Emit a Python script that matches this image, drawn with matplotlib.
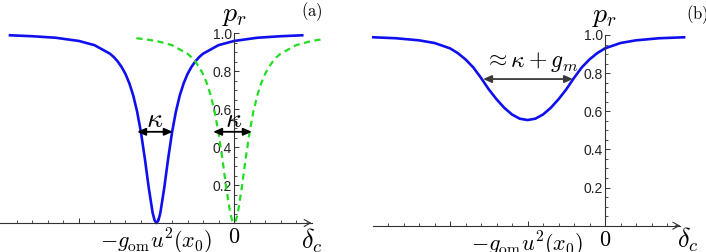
import numpy as np
import matplotlib.pyplot as plt
from matplotlib.ticker import FixedLocator

plt.rcParams['mathtext.fontset'] = 'cm'
plt.rcParams['font.family'] = ['Liberation Sans', 'DejaVu Sans']

# panel (a): shifted cavity dip (blue) and bare cavity dip (green)
a_blue_x = [-2.89, -2.6, -2.3, -2.0, -1.8, -1.6, -1.55, -1.5, -1.45, -1.4, -1.35, -1.3, -1.25,
            -1.2, -1.15, -1.1, -1.05, -1.025, -1.0, -0.975, -0.95, -0.9, -0.85, -0.8,
            -0.75, -0.7, -0.65, -0.6, -0.55, -0.5, -0.45, -0.4, -0.2, 0.0, 0.3, 0.6, 0.88]
a_blue_y = [0.988, 0.983, 0.975, 0.958, 0.936, 0.891, 0.873, 0.850, 0.821, 0.784, 0.735, 0.671, 0.586,
            0.476, 0.338, 0.185, 0.054, 0.014, 0.0, 0.014, 0.054, 0.185, 0.338, 0.476,
            0.586, 0.671, 0.735, 0.784, 0.821, 0.850, 0.873, 0.891, 0.936, 0.958, 0.975, 0.983, 0.988]

a_green_x = [-1.26, -1.0, -0.8, -0.6, -0.55, -0.5, -0.45, -0.4, -0.35, -0.3, -0.25, -0.2, -0.15,
             -0.1, -0.05, -0.025, 0.0, 0.025, 0.05, 0.1, 0.15, 0.2, 0.25, 0.3, 0.35,
             0.4, 0.45, 0.5, 0.55, 0.6, 0.8, 1.0, 1.17]
a_green_y = [0.973, 0.958, 0.936, 0.891, 0.873, 0.850, 0.821, 0.784, 0.735, 0.671, 0.586, 0.476, 0.338,
             0.185, 0.054, 0.014, 0.0, 0.014, 0.054, 0.185, 0.338, 0.476, 0.586, 0.671, 0.735,
             0.784, 0.821, 0.850, 0.873, 0.891, 0.936, 0.958, 0.969]

# panel (b): broadened dip
b_blue_x = [-2.99, -2.7, -2.4, -2.2, -2.0, -1.9, -1.8, -1.7, -1.6, -1.5, -1.4, -1.3, -1.2, -1.1,
            -1.0, -0.9, -0.8, -0.7, -0.6, -0.5, -0.4, -0.3, -0.2, -0.1, 0.0, 0.2, 0.4, 0.7, 1.02]
b_blue_y = [0.988, 0.983, 0.972, 0.958, 0.930, 0.905, 0.872, 0.830, 0.775, 0.715, 0.663, 0.618,
            0.583, 0.561, 0.554, 0.561, 0.583, 0.618, 0.663, 0.715, 0.775, 0.830, 0.872, 0.905,
            0.930, 0.958, 0.972, 0.983, 0.988]

y_ticks = [0.2, 0.4, 0.6, 0.8, 1.0]
y_labels = ['0.2', '0.4', '0.6', '0.8', '1.0']
x_ticks = [-2, -1, 0]
x_labels = ['', r'$-g_{\rm om}u^2(x_0)$', r'$0$']

axis_col = '#333333'
blue = '#1010ee'
green = '#22dd22'

fig = plt.figure(figsize=(7.06, 2.52), dpi=100)
ax_a = fig.add_axes([0, 0, 0.5, 1])
ax_b = fig.add_axes([0.5, 0, 0.5, 1])


def style_axes(ax, xlim, ylim, xstart, xend):
    ax.set_xlim(*xlim)
    ax.set_ylim(*ylim)
    ax.patch.set_visible(False)
    for s in ['top', 'right']:
        ax.spines[s].set_visible(False)
    ax.spines['left'].set_position(('data', 0))
    ax.spines['bottom'].set_position(('data', 0))
    ax.spines['left'].set_bounds(0, 1.0)
    ax.spines['bottom'].set_bounds(xstart, xend)
    for s in ['left', 'bottom']:
        ax.spines[s].set_color(axis_col)
        ax.spines[s].set_linewidth(0.8)
    ax.set_yticks(y_ticks, y_labels)
    ax.yaxis.set_minor_locator(FixedLocator([v for v in np.arange(0.05, 1.0, 0.05)
                                             if abs(v * 5 - round(v * 5)) > 1e-6]))
    ax.set_xticks(x_ticks, x_labels)
    ax.xaxis.set_minor_locator(FixedLocator([v for v in np.arange(-2.8, 0.9, 0.2)
                                             if abs(v - round(v)) > 1e-6]))
    ax.tick_params(axis='y', which='major', direction='in', length=3.6, width=0.7,
                   color=axis_col, pad=1.5, labelsize=10, labelcolor='#222222')
    ax.tick_params(axis='y', which='minor', direction='in', length=2.0, width=0.6, color=axis_col)
    ax.tick_params(axis='x', which='major', direction='in', length=3.6, width=0.7,
                   color=axis_col, pad=3, labelsize=16)
    ax.tick_params(axis='x', which='minor', direction='in', length=2.0, width=0.6, color=axis_col)
    ax.annotate('', xy=(xend, 0), xytext=(xend - 0.06, 0),
                arrowprops=dict(arrowstyle='->,head_length=0.45,head_width=0.25',
                                lw=0.8, color=axis_col, shrinkA=0, shrinkB=0))


style_axes(ax_a, (-3.019, 1.535), (-0.1526, 1.1737), -3.02, 1.0)
style_axes(ax_b, (-3.252, 1.303), (-0.138, 1.1835), -3.0, 0.97)

# panel (a)
ax_a.plot(a_blue_x, a_blue_y, color=blue, lw=1.9, solid_joinstyle='round')
ax_a.plot(a_green_x, a_green_y, color=green, lw=1.6, ls=(0, (2.8, 2.0)), clip_on=False)
kw = dict(arrowstyle='<|-|>,head_length=0.5,head_width=0.22', color='black', lw=1.3,
          shrinkA=0, shrinkB=0)
ax_a.annotate('', xy=(-1.25, 0.48), xytext=(-0.79, 0.48), arrowprops=kw)
ax_a.annotate('', xy=(-0.27, 0.48), xytext=(0.23, 0.48), arrowprops=kw)
ax_a.text(-1.02, 0.505, r'$\kappa$', fontsize=20, ha='center', va='baseline')
ax_a.text(0.0, 0.505, r'$\kappa$', fontsize=20, ha='center', va='baseline')
ax_a.text(0.01, 1.065, r'$p_r$', fontsize=20, ha='center', va='baseline')
ax_a.text(1.0, -0.132, r'$\delta_c$', fontsize=19, ha='center', va='baseline')
ax_a.text(1.006, 1.112, r'$\mathrm{(a)}$', fontsize=12, ha='center', va='center')

# panel (b)
ax_b.plot(b_blue_x, b_blue_y, color=blue, lw=1.9, solid_joinstyle='round')
kw_b = dict(arrowstyle='<|-|>,head_length=0.5,head_width=0.22', color='#3a3a3a', lw=1.3,
            shrinkA=0, shrinkB=0)
ax_b.annotate('', xy=(-1.574, 0.769), xytext=(-0.413, 0.769), arrowprops=kw_b)
ax_b.text(-0.955, 0.834, r'$\approx\kappa+g_m$', fontsize=17, ha='center', va='baseline')
ax_b.text(0.0, 1.068, r'$p_r$', fontsize=20, ha='center', va='baseline')
ax_b.text(1.07, -0.117, r'$\delta_c$', fontsize=19, ha='center', va='baseline')
ax_b.text(1.187, 1.107, r'$\mathrm{(b)}$', fontsize=12, ha='center', va='center')

fig.savefig('out.png', dpi=100)
